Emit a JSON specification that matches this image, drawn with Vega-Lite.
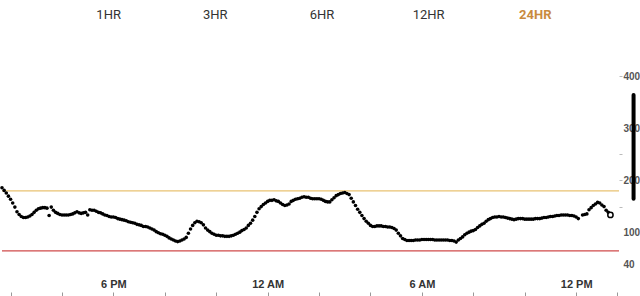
{
  "$schema": "https://vega.github.io/schema/vega-lite/v6.json",
  "padding": 0,
  "spacing": 0,
  "config": {"view": {"stroke": null}, "font": "Liberation Sans"},
  "datasets": {
    "buttons": [
      {"label": "1HR", "state": "off"},
      {"label": "3HR", "state": "off"},
      {"label": "6HR", "state": "off"},
      {"label": "12HR", "state": "off"}
    ],
    "activeButton": [
      {"label": "24HR", "state": "on"}
    ],
    "targets": [
      {"level": "high", "g": 180},
      {"level": "low", "g": 65}
    ],
    "latest": [{"min": 2240, "g": 134}],
    "bar": [{"min": 2294, "g1": 165, "g2": 364}],
    "cgm": [
      {"min": 820, "g": 186}, {"min": 825, "g": 181}, {"min": 830, "g": 176}, {"min": 835, "g": 170},
      {"min": 840, "g": 164}, {"min": 845, "g": 157}, {"min": 850, "g": 149}, {"min": 855, "g": 140}, {"min": 860, "g": 135}, {"min": 865, "g": 131}, {"min": 870, "g": 129}, {"min": 875, "g": 129}, {"min": 880, "g": 130}, {"min": 885, "g": 132}, {"min": 890, "g": 135}, {"min": 895, "g": 139},
      {"min": 900, "g": 143}, {"min": 905, "g": 146}, {"min": 910, "g": 147}, {"min": 915, "g": 148}, {"min": 920, "g": 148}, {"min": 925, "g": 147}, {"min": 930, "g": 133}, {"min": 935, "g": 149}, {"min": 940, "g": 143}, {"min": 945, "g": 139}, {"min": 950, "g": 137}, {"min": 955, "g": 135},
      {"min": 960, "g": 134}, {"min": 965, "g": 134}, {"min": 970, "g": 134}, {"min": 975, "g": 134}, {"min": 980, "g": 135}, {"min": 985, "g": 136}, {"min": 990, "g": 138}, {"min": 995, "g": 140}, {"min": 1000, "g": 138}, {"min": 1005, "g": 137}, {"min": 1010, "g": 138}, {"min": 1015, "g": 139},
      {"min": 1020, "g": 134}, {"min": 1025, "g": 144}, {"min": 1030, "g": 143}, {"min": 1035, "g": 143}, {"min": 1040, "g": 141}, {"min": 1045, "g": 139}, {"min": 1050, "g": 138}, {"min": 1055, "g": 136}, {"min": 1060, "g": 134}, {"min": 1065, "g": 133}, {"min": 1070, "g": 131}, {"min": 1075, "g": 130},
      {"min": 1080, "g": 130}, {"min": 1085, "g": 129}, {"min": 1090, "g": 127}, {"min": 1095, "g": 126}, {"min": 1100, "g": 125}, {"min": 1105, "g": 124}, {"min": 1110, "g": 123}, {"min": 1115, "g": 121}, {"min": 1120, "g": 120}, {"min": 1125, "g": 119}, {"min": 1130, "g": 118}, {"min": 1135, "g": 116},
      {"min": 1140, "g": 115}, {"min": 1145, "g": 114}, {"min": 1150, "g": 112}, {"min": 1155, "g": 112}, {"min": 1160, "g": 111}, {"min": 1165, "g": 109}, {"min": 1170, "g": 107}, {"min": 1175, "g": 105}, {"min": 1180, "g": 102}, {"min": 1185, "g": 100}, {"min": 1190, "g": 98}, {"min": 1195, "g": 97},
      {"min": 1200, "g": 95}, {"min": 1205, "g": 93}, {"min": 1210, "g": 90}, {"min": 1215, "g": 88}, {"min": 1220, "g": 86}, {"min": 1225, "g": 84}, {"min": 1230, "g": 83}, {"min": 1235, "g": 84}, {"min": 1240, "g": 86}, {"min": 1245, "g": 88}, {"min": 1250, "g": 91}, {"min": 1255, "g": 99},
      {"min": 1260, "g": 107}, {"min": 1265, "g": 114}, {"min": 1270, "g": 119}, {"min": 1275, "g": 122}, {"min": 1280, "g": 121}, {"min": 1285, "g": 119}, {"min": 1290, "g": 115}, {"min": 1295, "g": 109}, {"min": 1300, "g": 105}, {"min": 1305, "g": 102}, {"min": 1310, "g": 99}, {"min": 1315, "g": 97},
      {"min": 1320, "g": 95}, {"min": 1325, "g": 95}, {"min": 1330, "g": 94}, {"min": 1335, "g": 94}, {"min": 1340, "g": 93}, {"min": 1345, "g": 93}, {"min": 1350, "g": 93}, {"min": 1355, "g": 94}, {"min": 1360, "g": 95}, {"min": 1365, "g": 97}, {"min": 1370, "g": 99}, {"min": 1375, "g": 101},
      {"min": 1380, "g": 104}, {"min": 1385, "g": 106}, {"min": 1390, "g": 109}, {"min": 1395, "g": 114}, {"min": 1400, "g": 118}, {"min": 1405, "g": 124}, {"min": 1410, "g": 131}, {"min": 1415, "g": 139}, {"min": 1420, "g": 146}, {"min": 1425, "g": 150}, {"min": 1430, "g": 154}, {"min": 1435, "g": 157},
      {"min": 1440, "g": 160}, {"min": 1445, "g": 162}, {"min": 1450, "g": 162}, {"min": 1455, "g": 163}, {"min": 1460, "g": 161}, {"min": 1465, "g": 160}, {"min": 1470, "g": 157}, {"min": 1475, "g": 154}, {"min": 1480, "g": 152}, {"min": 1485, "g": 153}, {"min": 1490, "g": 155}, {"min": 1495, "g": 160},
      {"min": 1500, "g": 162}, {"min": 1505, "g": 164}, {"min": 1510, "g": 165}, {"min": 1515, "g": 166}, {"min": 1520, "g": 168}, {"min": 1525, "g": 169}, {"min": 1530, "g": 168}, {"min": 1535, "g": 168}, {"min": 1540, "g": 166}, {"min": 1545, "g": 165}, {"min": 1550, "g": 165}, {"min": 1555, "g": 165},
      {"min": 1560, "g": 165}, {"min": 1565, "g": 164}, {"min": 1570, "g": 162}, {"min": 1575, "g": 160}, {"min": 1580, "g": 159}, {"min": 1585, "g": 159}, {"min": 1590, "g": 163}, {"min": 1595, "g": 167}, {"min": 1600, "g": 171}, {"min": 1605, "g": 173}, {"min": 1610, "g": 175}, {"min": 1615, "g": 176},
      {"min": 1620, "g": 177}, {"min": 1625, "g": 175}, {"min": 1630, "g": 173}, {"min": 1635, "g": 166}, {"min": 1640, "g": 159}, {"min": 1645, "g": 152}, {"min": 1650, "g": 145}, {"min": 1655, "g": 139}, {"min": 1660, "g": 133}, {"min": 1665, "g": 127}, {"min": 1670, "g": 122}, {"min": 1675, "g": 118},
      {"min": 1680, "g": 114}, {"min": 1685, "g": 112}, {"min": 1690, "g": 112}, {"min": 1695, "g": 113}, {"min": 1700, "g": 113}, {"min": 1705, "g": 113}, {"min": 1710, "g": 112}, {"min": 1715, "g": 112}, {"min": 1720, "g": 111}, {"min": 1725, "g": 111}, {"min": 1730, "g": 110}, {"min": 1735, "g": 108},
      {"min": 1740, "g": 105}, {"min": 1745, "g": 99}, {"min": 1750, "g": 94}, {"min": 1755, "g": 89}, {"min": 1760, "g": 87}, {"min": 1765, "g": 85}, {"min": 1770, "g": 85}, {"min": 1775, "g": 85}, {"min": 1780, "g": 85}, {"min": 1785, "g": 86}, {"min": 1790, "g": 86}, {"min": 1795, "g": 86},
      {"min": 1800, "g": 87}, {"min": 1805, "g": 87}, {"min": 1810, "g": 87}, {"min": 1815, "g": 87}, {"min": 1820, "g": 87}, {"min": 1825, "g": 87}, {"min": 1830, "g": 86}, {"min": 1835, "g": 86}, {"min": 1840, "g": 86}, {"min": 1845, "g": 86}, {"min": 1850, "g": 86}, {"min": 1855, "g": 86},
      {"min": 1860, "g": 86}, {"min": 1865, "g": 85}, {"min": 1870, "g": 85}, {"min": 1875, "g": 84}, {"min": 1880, "g": 82}, {"min": 1885, "g": 86}, {"min": 1890, "g": 89}, {"min": 1895, "g": 92}, {"min": 1900, "g": 96}, {"min": 1905, "g": 99}, {"min": 1910, "g": 101}, {"min": 1915, "g": 103},
      {"min": 1920, "g": 104}, {"min": 1925, "g": 106}, {"min": 1930, "g": 110}, {"min": 1935, "g": 113}, {"min": 1940, "g": 116}, {"min": 1945, "g": 118}, {"min": 1950, "g": 122}, {"min": 1955, "g": 125}, {"min": 1960, "g": 127}, {"min": 1965, "g": 129}, {"min": 1970, "g": 130}, {"min": 1975, "g": 130},
      {"min": 1980, "g": 131}, {"min": 1985, "g": 130}, {"min": 1990, "g": 130}, {"min": 1995, "g": 129}, {"min": 2000, "g": 128}, {"min": 2005, "g": 127}, {"min": 2010, "g": 126}, {"min": 2015, "g": 125}, {"min": 2020, "g": 126}, {"min": 2025, "g": 127}, {"min": 2030, "g": 127}, {"min": 2035, "g": 127},
      {"min": 2040, "g": 126}, {"min": 2045, "g": 126}, {"min": 2050, "g": 126}, {"min": 2055, "g": 126}, {"min": 2060, "g": 126}, {"min": 2065, "g": 127}, {"min": 2070, "g": 127}, {"min": 2075, "g": 127}, {"min": 2080, "g": 128}, {"min": 2085, "g": 129}, {"min": 2090, "g": 129}, {"min": 2095, "g": 130},
      {"min": 2100, "g": 131}, {"min": 2105, "g": 131}, {"min": 2110, "g": 132}, {"min": 2115, "g": 133}, {"min": 2120, "g": 133}, {"min": 2125, "g": 134}, {"min": 2130, "g": 134}, {"min": 2135, "g": 134}, {"min": 2140, "g": 134}, {"min": 2145, "g": 133}, {"min": 2150, "g": 133}, {"min": 2155, "g": 132},
      {"min": 2160, "g": 130}, {"min": 2165, "g": 127}, {"min": 2175, "g": 134}, {"min": 2180, "g": 135}, {"min": 2185, "g": 136}, {"min": 2190, "g": 144}, {"min": 2195, "g": 148}, {"min": 2200, "g": 152}, {"min": 2205, "g": 155}, {"min": 2210, "g": 158}, {"min": 2215, "g": 157},
      {"min": 2220, "g": 153}, {"min": 2225, "g": 150}, {"min": 2230, "g": 143}, {"min": 2235, "g": 139}
    ]
  },
  "vconcat": [
    {
      "width": 640,
      "height": 30,
      "encoding": {
        "x": {"field": "label", "type": "nominal", "scale": {"type": "point", "domain": ["1HR", "3HR", "6HR", "12HR", "24HR"], "padding": 1.78}, "axis": null},
        "text": {"field": "label"}
      },
      "layer": [
        {
          "data": {"name": "buttons"},
          "mark": {"type": "text", "font": "Roboto", "fontSize": 13, "baseline": "middle", "align": "center", "color": "#333333"}
        },
        {
          "data": {"name": "activeButton"},
          "mark": {"type": "text", "font": "Roboto", "fontSize": 13, "fontWeight": "bold", "baseline": "middle", "align": "center", "color": "#C98A3E"}
        }
      ]
    },
    {
      "width": 617,
      "height": 262,
      "layer": [
        {
          "data": {"name": "targets"},
          "mark": {"type": "rule", "strokeWidth": 1.3},
          "encoding": {
            "y": {"field": "g", "type": "quantitative"},
            "color": {"field": "level", "type": "nominal", "scale": {"domain": ["high", "low"], "range": ["#E8C272", "#CF4B4B"]}, "legend": null}
          }
        },
        {
          "data": {"name": "cgm"},
          "mark": {"type": "point", "filled": true, "size": 13, "color": "black", "opacity": 1},
          "encoding": {
            "x": {
              "field": "min", "type": "quantitative",
              "scale": {"domain": [820, 2260], "nice": false, "zero": false},
              "axis": {
                "title": null, "domain": false, "grid": false,
                "values": [840, 900, 960, 1020, 1080, 1140, 1200, 1260, 1320, 1380, 1440, 1500, 1560, 1620, 1680, 1740, 1800, 1860, 1920, 1980, 2040, 2100, 2160, 2220, 2255],
                "labelExpr": "datum.value == 1080 ? '6 PM' : datum.value == 1440 ? '12 AM' : datum.value == 1800 ? '6 AM' : datum.value == 2160 ? '12 PM' : ''",
                "labelOverlap": false, "labelFlush": false,
                "tickSize": 4, "tickColor": "#999999",
                "labelPadding": -12, "labelBaseline": "middle",
                "labelFontSize": 11, "labelFontWeight": "bold", "labelColor": "#333333"
              }
            },
            "y": {
              "field": "g", "type": "quantitative",
              "scale": {"domain": [-13.6, 488.3], "nice": false, "zero": false},
              "axis": {
                "orient": "right", "title": null, "domain": false, "grid": false,
                "values": [40, 100, 150, 200, 250, 300, 400],
                "labelExpr": "datum.value == 150 || datum.value == 250 ? '' : datum.label",
                "tickSize": 3,
                "tickColor": {"condition": {"test": "datum.value == 150 || datum.value == 200 || datum.value == 250 || datum.value == 400", "value": "#BBBBBB"}, "value": "transparent"},
                "labelPadding": 1, "labelFontSize": 10, "labelFontWeight": "bold", "labelColor": "#555555"
              }
            }
          }
        },
        {
          "data": {"name": "latest"},
          "mark": {"type": "point", "filled": true, "fill": "white", "stroke": "black", "strokeWidth": 1.5, "size": 28, "opacity": 1},
          "encoding": {
            "x": {"field": "min", "type": "quantitative"},
            "y": {"field": "g", "type": "quantitative"}
          }
        },
        {
          "data": {"name": "bar"},
          "mark": {"type": "rule", "strokeWidth": 4, "strokeCap": "round", "color": "black"},
          "encoding": {
            "x": {"field": "min", "type": "quantitative"},
            "y": {"field": "g1", "type": "quantitative"},
            "y2": {"field": "g2"}
          }
        }
      ]
    }
  ]
}
